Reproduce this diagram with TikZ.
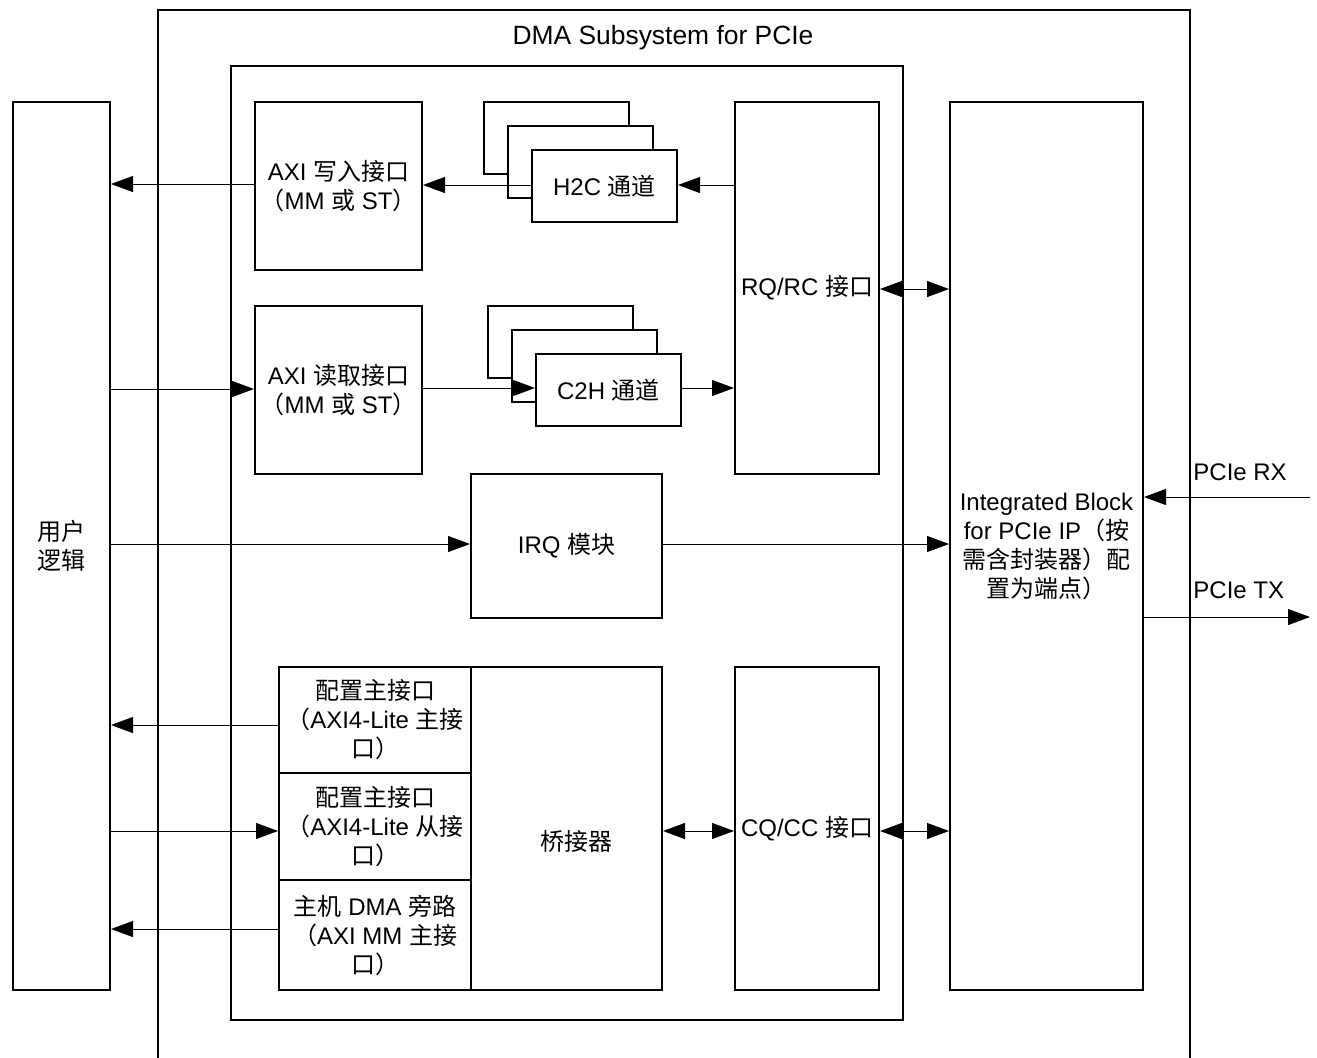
\documentclass[tikz,border=0pt]{standalone}
\usepackage{fontspec}
\setmainfont{Liberation Sans}
\newfontfamily\cjk{Noto Sans CJK SC}
\usetikzlibrary{arrows.meta}
\begin{document}
\begin{tikzpicture}[x=0.5pt,y=-0.5pt,
  every node/.style={font=\fontsize{12pt}{14.5pt}\selectfont},
  box/.style={draw, line width=1pt, inner sep=0pt, align=center, fill=white},
  arr/.style={-{Triangle[length=11pt,width=8pt]}, line width=0.5pt},
  darr/.style={{Triangle[length=11pt,width=8pt]}-{Triangle[length=11pt,width=8pt]}, line width=0.5pt}]
\useasboundingbox[fill=white] (0,0) rectangle (1317,1057);
% outer frame
\draw[line width=1pt] (158,1070) -- (158,10) -- (1190,10) -- (1190,1070);
\node[font=\fontsize{13.2pt}{15pt}\selectfont] (title) at (663,38) {DMA Subsystem for PCIe};
% inner frame
\node[box, minimum width=336pt, minimum height=477pt] (inner) at (567,543) {};
% user logic
\node[box, minimum width=48.5pt, minimum height=444pt] (user) at (61.5,546) {{\cjk 用户}\\{\cjk 逻辑}};
% AXI write
\node[box, minimum width=83.5pt, minimum height=84pt] (axiw) at (338.5,186) {AXI {\cjk 写入接口}\\{\cjk （}MM {\cjk 或} ST{\cjk ）}};
% H2C stacks
\node[box, minimum width=72.5pt, minimum height=36pt] (h2cb) at (556.5,138) {};
\node[box, minimum width=72.5pt, minimum height=36pt] (h2cm) at (580.5,162) {};
\node[box, minimum width=72.5pt, minimum height=36pt] (h2cf) at (604.5,186) {H2C {\cjk 通道}};
% RQ/RC
\node[box, minimum width=72pt, minimum height=186pt] (rqrc) at (807,288) {RQ/RC {\cjk 接口}};
% AXI read
\node[box, minimum width=83.5pt, minimum height=84pt] (axir) at (338.5,390) {AXI {\cjk 读取接口}\\{\cjk （}MM {\cjk 或} ST{\cjk ）}};
% C2H stacks
\node[box, minimum width=72.5pt, minimum height=36pt] (c2hb) at (560.5,342) {};
\node[box, minimum width=72.5pt, minimum height=36pt] (c2hm) at (584.5,366) {};
\node[box, minimum width=72.5pt, minimum height=36pt] (c2hf) at (608.5,390) {C2H {\cjk 通道}};
% IRQ
\node[box, minimum width=95.5pt, minimum height=72pt] (irq) at (566.5,546) {IRQ {\cjk 模块}};
% Integrated block
\node[box, minimum width=96.5pt, minimum height=444pt] (integ) at (1046.5,546) {Integrated Block\\for PCIe IP{\cjk （按}\\{\cjk 需含封装器）配}\\{\cjk 置为端点）}};
% bottom stack
\node[box, minimum width=96pt, minimum height=53pt] (cfgm) at (375,720) {{\cjk 配置主接口}\\{\cjk （}AXI4-Lite {\cjk 主接}\\{\cjk 口）}};
\node[box, minimum width=96pt, minimum height=53.5pt] (cfgs) at (375,826.5) {{\cjk 配置主接口}\\{\cjk （}AXI4-Lite {\cjk 从接}\\{\cjk 口）}};
\node[box, minimum width=96pt, minimum height=55pt] (byp) at (375,935) {{\cjk 主机} DMA {\cjk 旁路}\\{\cjk （}AXI MM {\cjk 主接}\\{\cjk 口）}};
\node[box, minimum width=95.5pt, minimum height=161.5pt] (bridge) at (566.5,828.5) {};
\node (bridgetxt) at (576,841) {\cjk 桥接器};
\node[box, minimum width=72pt, minimum height=161.5pt] (cqcc) at (807,828.5) {CQ/CC {\cjk 接口}};
% PCIe labels
\node[anchor=west, inner sep=0pt] (rxl) at (1193,472) {PCIe RX};
\node[anchor=west, inner sep=0pt] (txl) at (1193,590) {PCIe TX};
\coordinate (rxend) at (1310,497);
\coordinate (txend) at (1310,617);
% connectors
\draw[arr] ([yshift=1pt]axiw.west) -- ([yshift=1pt]axiw.west -| user.east);
\draw[arr] ([yshift=0.5pt]h2cf.west) -- ([yshift=0.5pt]h2cf.west -| axiw.east);
\draw[arr] ([yshift=0.5pt]h2cf.east -| rqrc.west) -- ([yshift=0.5pt]h2cf.east);
\draw[arr] ([yshift=0.5pt]axir.west -| user.east) -- ([yshift=0.5pt]axir.west);
\draw[arr] ([yshift=1pt]axir.east) -- ([yshift=1pt]axir.east -| c2hf.west);
\draw[arr] ([yshift=1pt]c2hf.east) -- ([yshift=1pt]c2hf.east -| rqrc.west);
\draw[arr] ([yshift=1pt]irq.west -| user.east) -- ([yshift=1pt]irq.west);
\draw[arr] ([yshift=1pt]irq.east) -- ([yshift=1pt]irq.east -| integ.west);
\draw[darr] ([yshift=-0.5pt]rqrc.east) -- ([yshift=-0.5pt]rqrc.east -| integ.west);
\draw[arr] ([yshift=-2.5pt]cfgm.west) -- ([yshift=-2.5pt]cfgm.west -| user.east);
\draw[arr] ([yshift=-2.25pt]cfgs.west -| user.east) -- ([yshift=-2.25pt]cfgs.west);
\draw[arr] ([yshift=3pt]byp.west) -- ([yshift=3pt]byp.west -| user.east);
\draw[darr] ([yshift=-1.25pt]bridge.east) -- ([yshift=-1.25pt]bridge.east -| cqcc.west);
\draw[darr] ([yshift=-1.25pt]cqcc.east) -- ([yshift=-1.25pt]cqcc.east -| integ.west);
\draw[arr] (rxend) -- (rxend -| integ.east);
\draw[arr] (txend -| integ.east) -- (txend);
\end{tikzpicture}
\end{document}
